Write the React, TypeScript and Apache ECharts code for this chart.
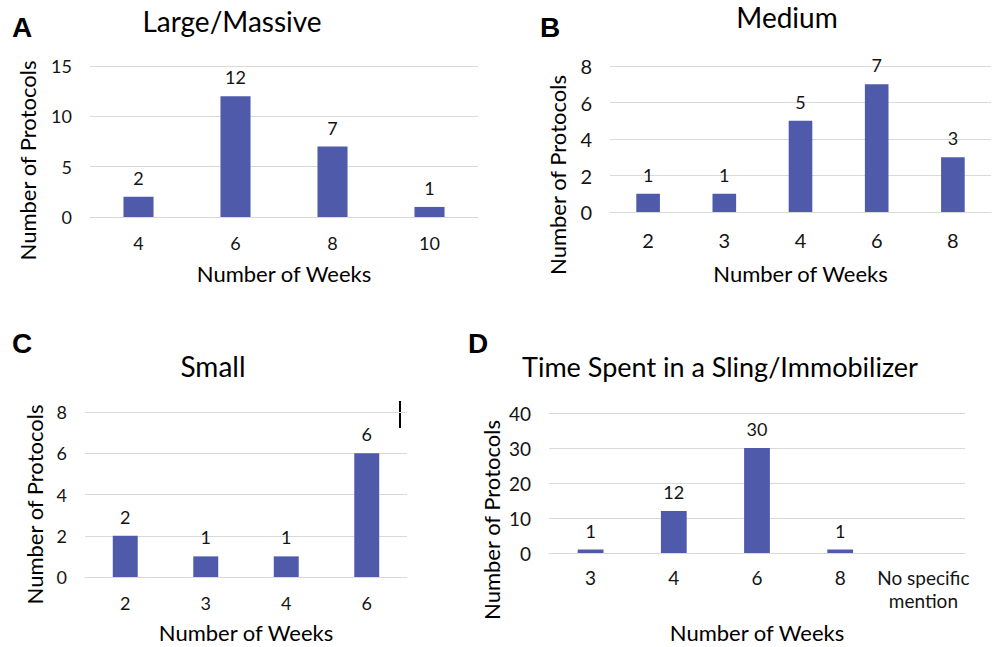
import React, { useEffect, useRef } from "react";
import * as echarts from "echarts";

const catsA = ["4", "6", "8", "10"];
const valsA = [2, 12, 7, 1];
const catsB = ["2", "3", "4", "6", "8"];
const valsB = [1, 1, 5, 7, 3];
const catsC = ["2", "3", "4", "6"];
const valsC = [2, 1, 1, 6];
const catsD = ["3", "4", "6", "8", "No specific\nmention"];
const valsD: (number | null)[] = [1, 12, 30, 1, null];

const titles = ["Large/Massive", "Medium", "Small", "Time Spent in a Sling/Immobilizer"];
const letters = ["A", "B", "C", "D"];
const xName = "Number of Weeks";
const yName = "Number of Protocols";

const FONT = "Lato";
const BAR = "#4F5AAB";
const GRID = "#D9D9D9";
const TXT = "#141414";

export default function App() {
  const ref = useRef<HTMLDivElement>(null);
  useEffect(() => {
    document.body.style.margin = "0";
    const chart = echarts.init(ref.current!, undefined, { renderer: "svg" });

    const grids = [
      { left: 90, top: 66, width: 388, height: 151 },
      { left: 610, top: 66, width: 381, height: 146 },
      { left: 85, top: 412, width: 322, height: 165 },
      { left: 549, top: 413, width: 416, height: 140 },
    ];
    const cats = [catsA, catsB, catsC, catsD];
    const vals = [valsA, valsB, valsC, valsD];
    const yMax = [15, 8, 8, 40];
    const yInt = [5, 2, 2, 10];
    const xGap = [45, 50, 44, 68];
    const xMargin = [14, 16, 14, 13];
    const yGap = [52, 42, 40, 47];
    const yShift = [38, 72, 20, 74];
    const tickSize = [18, 20, 18, 19];
    const titleSize = [28, 28, 28, 27];
    const titlePos = [
      [232, 7],
      [787, 3],
      [213, 352],
      [720, 353],
    ];
    const letterPos = [
      [22, 27],
      [550, 27],
      [22, 343],
      [478, 343],
    ];

    const option: any = {
      animation: false,
      backgroundColor: "#ffffff",
      title: titles.map((t, i) => ({
        text: t,
        left: titlePos[i][0],
        top: titlePos[i][1],
        padding: 0,
        textAlign: "center",
        textStyle: { fontFamily: FONT, fontSize: titleSize[i], fontWeight: "normal", color: "#000" },
      })),
      graphic: [
        ...letters.map((l, i) => ({
          type: "text",
          x: letterPos[i][0],
          y: letterPos[i][1],
          style: {
            text: l,
            fontFamily: "Liberation Sans",
            fontWeight: "bold",
            fontSize: 28,
            fill: "#000",
            align: "center",
            verticalAlign: "middle",
          },
        })),
        {
          type: "line",
          shape: { x1: 400, y1: 401, x2: 400, y2: 428 },
          style: { stroke: "#000", lineWidth: 2 },
        },
      ],
      grid: grids,
      xAxis: cats.map((c, i) => ({
        type: "category",
        gridIndex: i,
        data: c,
        axisLine: { lineStyle: { color: GRID, width: 1 } },
        axisTick: { show: false },
        axisLabel: {
          margin: xMargin[i],
          fontFamily: FONT,
          fontSize: tickSize[i],
          color: TXT,
          lineHeight: 23,
          interval: 0,
        },
        name: xName,
        nameLocation: "middle",
        nameGap: xGap[i],
        nameTextStyle: { fontFamily: FONT, fontSize: 22, color: "#000" },
      })),
      yAxis: yMax.map((m, i) => ({
        type: "value",
        gridIndex: i,
        min: 0,
        max: m,
        interval: yInt[i],
        axisLine: { show: false },
        axisTick: { show: false },
        splitLine: { lineStyle: { color: GRID, width: 1 } },
        axisLabel: { margin: 18, fontFamily: FONT, fontSize: tickSize[i], color: TXT },
        name: yName,
        nameLocation: "middle",
        nameGap: yGap[i],
        nameTextStyle: {
          fontFamily: FONT,
          fontSize: 22,
          color: "#000",
          padding: [0, yShift[i], 0, 0],
        },
      })),
      series: vals.map((v, i) => ({
        type: "bar",
        xAxisIndex: i,
        yAxisIndex: i,
        data: v,
        barWidth: "31%",
        itemStyle: { color: BAR },
        label: {
          show: true,
          position: "top",
          distance: 10,
          fontFamily: FONT,
          fontSize: 18,
          color: TXT,
        },
      })),
    };
    chart.setOption(option);
    return () => chart.dispose();
  }, []);
  return <div ref={ref} style={{ width: 1007, height: 647 }} />;
}
